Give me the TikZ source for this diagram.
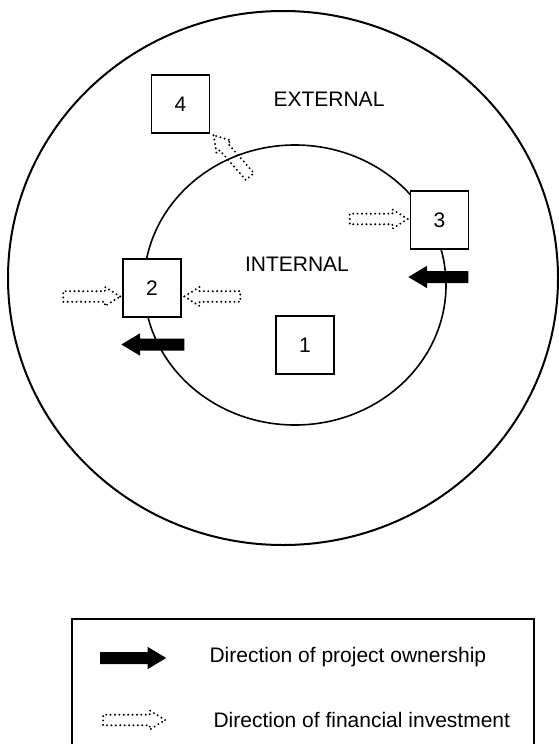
\documentclass[tikz,border=0pt]{standalone}
\usepackage{fontspec}
\setmainfont{Liberation Sans}
\usetikzlibrary{shapes.arrows,calc}
\begin{document}
\begin{tikzpicture}[x=1pt,y=-1pt,
  font=\fontsize{21}{25}\selectfont,
  box/.style={draw,line width=1.4pt,fill=white,minimum size=58pt,inner sep=0pt},
  own/.style={single arrow,fill=black,draw=none,inner xsep=0pt,inner ysep=5.8pt,
    single arrow head extend=5.2pt,single arrow tip angle=62,single arrow head indent=0pt},
  fin/.style={single arrow,draw,line width=2.2pt,dash pattern=on 0pt off 4.4pt,line cap=round,
    inner xsep=0pt,inner ysep=4.2pt,single arrow head extend=4.3pt,single arrow tip angle=64,
    single arrow head indent=0pt},
  ring/.style={draw,line width=1.6pt}]
\useasboundingbox (0,0) rectangle (559,744);
% circles
\draw[line width=2pt] (283,278) ellipse [x radius=275, y radius=267];
\draw[ring] (295,285) ellipse [x radius=151, y radius=140];
% labels
\node (ext) at (329,99) {EXTERNAL};
\node (int) at (297,264) {INTERNAL};
% boxes
\node[box] (b4) at (180.5,104) {4};
\node[box] (b3) at (439.5,220) {3};
\node[box] (b2) at (152,288) {2};
\node[box] (b1) at (305,345) {1};
% ownership arrows
\node[own,minimum height=60pt,rotate=180,anchor=tip] (o3) at (408,277) {};
\node[own,minimum height=63pt,rotate=180,anchor=tip] (o2) at (121,344.5) {};
% investment arrows
\node[fin,minimum height=58pt,anchor=tip] (f3) at ($(b3.west)+(0,-1)$) {};
\node[fin,minimum height=57pt,anchor=tip] (f2a) at ($(b2.west)+(0,8.5)$) {};
\node[fin,minimum height=56pt,rotate=180,anchor=tip] (f2b) at ($(b2.east)+(0.5,8.5)$) {};
\node[fin,minimum height=55pt,rotate=131.3,anchor=tip] (f4) at ($(b4.south east)+(2,0)$) {};
% legend
\draw[line width=1.8pt] (72,746) -- (72,619) -- (534,619) -- (534,746);
\node[own,minimum height=66pt,anchor=tail] (lo) at (100,658) {};
\node[fin,minimum height=62pt,anchor=tail] (lf) at (102,720) {};
\node[anchor=west] (lot) at (206,657) {Direction of project ownership};
\node[anchor=west] (lft) at (210,720) {Direction of financial investment};
\end{tikzpicture}
\end{document}
